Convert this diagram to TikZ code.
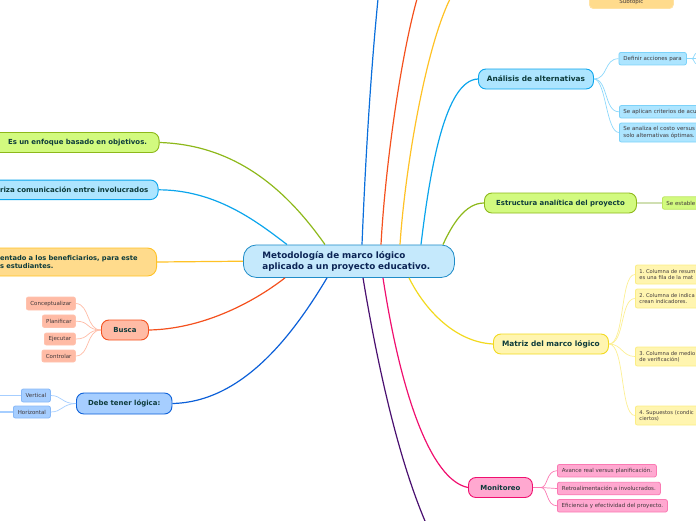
\documentclass[tikz,border=0pt]{standalone}
\usepackage{fontspec}
\setmainfont{DejaVu Sans}
\frenchspacing
\definecolor{gf}{HTML}{D2FA7F}\definecolor{gs}{HTML}{8DB81A}
\definecolor{bf}{HTML}{ADE5FF}\definecolor{bs}{HTML}{0BA5EC}
\definecolor{of}{HTML}{FFDB8C}\definecolor{os}{HTML}{FFC225}
\definecolor{rf}{HTML}{FFBBA5}\definecolor{rs}{HTML}{F4511E}
\definecolor{df}{HTML}{A6CEFF}\definecolor{ds}{HTML}{0B5FD8}
\definecolor{yf}{HTML}{FFF5B0}\definecolor{ys}{HTML}{F2D91E}
\definecolor{pf}{HTML}{FFA8D0}\definecolor{ps}{HTML}{F0106F}
\definecolor{vi}{HTML}{4A1070}
\definecolor{cf}{HTML}{C5E9FC}\definecolor{cs}{HTML}{1F8CC8}
\definecolor{mt}{HTML}{0D3B3B}\definecolor{st}{HTML}{40383A}\definecolor{nt}{HTML}{0B2455}
\tikzset{
 x=1pt,y=-1pt,
 mainbox/.style={draw,line width=.9pt,rounded corners=7.5pt,inner sep=0pt,text=mt,anchor=west,align=center,font=\fontsize{6.95}{8}\selectfont\bfseries\frenchspacing},
 widemain/.style={font=\fontsize{7.4}{8}\selectfont\bfseries},
 subbox/.style={draw,line width=.8pt,rounded corners=2pt,inner sep=0pt,text=st,anchor=west,font=\fontsize{5.5}{6.2}\selectfont\frenchspacing},
 yelbox/.style={subbox,draw=yf!70!ys,fill=yf,minimum width=75pt,minimum height=19pt,text width=67pt,align=left,font=\fontsize{5.2}{6.2}\selectfont\frenchspacing},
 main/.style={line width=1.2pt},
 fan/.style={line width=.7pt}
}
\begin{document}
\begin{tikzpicture}
\useasboundingbox (0,0) rectangle (696,520);
\clip (0,0) rectangle (696,520);
% nodes
\node[draw=cs,fill=cf,line width=.8pt,rounded corners=13pt,minimum width=211pt,minimum height=32.5pt,inner sep=0pt,anchor=west,text=nt,text width=192pt,align=left,font=\fontsize{8.8}{10.9}\selectfont\bfseries] (c) at (243,261.2) {\hspace*{9.5pt}Metodología de marco lógico\\\hspace*{9.5pt}aplicado a un proyecto educativo.};
% left main
\node[mainbox,draw=gs,fill=gf,minimum width=179pt,minimum height=20pt,anchor=east,text width=179pt,align=right] (g1) at (159.5,142.5) {Es un enfoque basado en objetivos.\hspace*{12pt}};
\node[mainbox,draw=bs,fill=bf,minimum width=179pt,minimum height=19.5pt,anchor=east,text width=179pt,align=left,font=\fontsize{7.05}{8}\selectfont\bfseries] (b1) at (158.5,189.8) {\hspace*{21pt}riza comunicación entre involucrados};
\node[mainbox,draw=os,fill=of,minimum width=177pt,minimum height=28pt,anchor=east,text width=177pt,align=left,rounded corners=9pt,font=\fontsize{6.7}{8.5}\selectfont\bfseries] (o1) at (157,262) {\hspace*{20.5pt}entado a los beneficiarios, para este\\\hspace*{20.5pt}s estudiantes.};
\node[mainbox,draw=rs,fill=rf,minimum width=47pt,minimum height=20pt] (bu) at (101,330) {Busca};
\node[mainbox,draw=ds,fill=df,minimum width=95.5pt,minimum height=21pt] (de) at (76,403.5) {Debe tener lógica:};
\node[subbox,draw=rf!90!white,fill=rf,minimum width=49pt,minimum height=13pt] (r1) at (26,303.5) {Conceptualizar};
\node[subbox,draw=rf!90!white,fill=rf,minimum width=33pt,minimum height=12.5pt] (r2) at (42,321.2) {Planificar};
\node[subbox,draw=rf!90!white,fill=rf,minimum width=31pt,minimum height=12pt] (r3) at (44,339) {Ejecutar};
\node[subbox,draw=rf!90!white,fill=rf,minimum width=33.5pt,minimum height=12pt] (r4) at (41.5,356) {Controlar};
\node[subbox,draw=df!80!ds,fill=df,minimum width=29pt,minimum height=13pt] (d1) at (21,395.5) {Vertical};
\node[subbox,draw=df!80!ds,fill=df,minimum width=37pt,minimum height=12pt] (d2) at (13,412) {Horizontal};
\coordinate (dl1) at (-1,395.5);
\coordinate (dl2) at (-1,412);
% right main
\node[subbox,draw=of!80!white,fill=of,minimum width=84pt,minimum height=18.5pt,rounded corners=4pt] (su) at (589,-0.7) {\raisebox{-10.5pt}{Subtopic}};
\node[mainbox,widemain,draw=bs,fill=bf,minimum width=115pt,minimum height=20pt] (an) at (478,79) {Análisis de alternativas};
\node[subbox,draw=bf!70!bs,fill=bf,minimum width=67.5pt,minimum height=12.5pt] (a1) at (618.5,58.7) {Definir acciones para};
\node[subbox,draw=bf!70!bs,fill=bf,minimum width=90pt,minimum height=12.5pt,text width=82pt,align=left] (a2) at (619,111.8) {Se aplican criterios de acu};
\node[subbox,draw=bf!70!bs,fill=bf,minimum width=90pt,minimum height=19pt,text width=82pt,align=left] (a3) at (619,132.5) {Se analiza el costo versus\\solo alternativas óptimas.};
\coordinate (a1f) at (692,58.7);
\coordinate (a1u) at (697,53);
\coordinate (a1m) at (697,58.7);
\coordinate (a1d) at (697,64);
\node[mainbox,draw=gs,fill=gf,minimum width=152pt,minimum height=20pt] (es) at (484,203) {Estructura analítica del proyecto};
\node[subbox,draw=gf!70!gs,fill=gf,minimum width=50pt,minimum height=12.5pt,text width=42pt,align=left] (e1) at (662,203) {Se estable};
\node[mainbox,widemain,draw=ys,fill=yf,minimum width=115pt,minimum height=20pt] (ma) at (493,344) {Matriz del marco lógico};
\node[yelbox] (m1) at (635,274.5) {1. Columna de resum\\es una fila de la mat};
\node[yelbox] (m2) at (635,298.5) {2. Columna de indica\\crean indicadores.};
\node[yelbox] (m3) at (635,356.5) {3. Columna de medio\\de verificación)};
\node[yelbox] (m4) at (635,415.5) {4. Supuestos (condic\\ciertos)};
\node[mainbox,draw=ps,fill=pf,minimum width=64pt,minimum height=20pt] (mo) at (468,487.5) {Monitoreo};
\node[subbox,draw=pf!70!ps,fill=pf,minimum width=99pt,minimum height=12.5pt] (p1) at (557,470.7) {Avance real versus planificación.};
\node[subbox,draw=pf!70!ps,fill=pf,minimum width=103pt,minimum height=12.5pt] (p2) at (557,488.5) {Retroalimentación a involucrados.};
\node[subbox,draw=pf!70!ps,fill=pf,minimum width=110pt,minimum height=12.5pt] (p3) at (557,505.8) {Eficiencia y efectividad del proyecto.};
% free ends
\coordinate (t1) at (378,-1);
\coordinate (t2) at (417,-1);
\coordinate (t3) at (450,-1);
\coordinate (t4) at (425,521);
% main connectors
\draw[main,color=gs] (g1.east) .. controls (240,145) and (290,195) .. ([xshift=82pt]c.north west);
\draw[main,color=bs] (b1.east) .. controls (215,190) and (255,220) .. ([xshift=44pt]c.north west);
\draw[main,color=os] (o1.east) -- (c.west);
\draw[main,color=rs] (bu.east) .. controls (200,329) and (250,305) .. ([xshift=42pt]c.south west);
\draw[main,color=ds] (de.east) .. controls (240,402) and (290,340) .. ([xshift=84pt]c.south west);
\draw[main,color=ds!90!cyan] (t1) .. controls (370,80) and (365,170) .. ([xshift=119pt]c.north west);
\draw[main,color=rs] (t2) .. controls (400,60) and (385,170) .. ([xshift=138pt]c.north west);
\draw[main,color=os] (t3) .. controls (425,50) and (405,170) .. ([xshift=157pt]c.north west);
\draw[main,color=bs] (an.west) .. controls (445,80) and (430,170) .. ([xshift=178pt]c.north west);
\draw[main,color=gs] (es.west) .. controls (465,203) and (452,225) .. ([xshift=200pt]c.north west);
\draw[main,color=ys] (ma.west) .. controls (455,342) and (425,310) .. ([xshift=166pt]c.south west);
\draw[main,color=ps] (mo.west) .. controls (430,480) and (400,390) .. ([xshift=140pt]c.south west);
\draw[main,color=vi] (t4) .. controls (395,450) and (375,350) .. ([xshift=120pt]c.south west);
% fans
\foreach \n/\yy in {r1/304,r2/321,r3/339,r4/356}{
 \draw[fan,color=rf] (bu.west) .. controls (86,330) and (90,\yy) .. (\n.east);
}
\foreach \n/\yy in {d1/395.5,d2/412}{
 \draw[fan,color=df] (de.west) .. controls (62,404) and (62,\yy) .. (\n.east);
}
\draw[fan,color=df] (d1.west) -- (dl1);
\draw[line width=1.4pt,color=df] (d2.west) -- (dl2);
\draw[fan,color=bf!80!bs] (an.east) .. controls (608,79) and (604,58.7) .. (a1.west);
\draw[fan,color=bf!80!bs] (an.east) .. controls (608,79) and (604,111.8) .. (a2.west);
\draw[fan,color=bf!80!bs] (an.east) .. controls (606,79) and (606,132.5) .. (a3.west);
\draw[line width=1.3pt,color=bf!80!bs] (a1.east) -- (a1f);
\draw[fan,color=bf!80!bs] (a1f) .. controls (694,58.7) and (694,53) .. (a1u);
\draw[fan,color=bf!80!bs] (a1f) -- (a1m);
\draw[fan,color=bf!80!bs] (a1f) .. controls (694,58.7) and (694,64) .. (a1d);
\draw[line width=1.3pt,color=gf!60!gray!60!white] (es.east) -- (e1.west);
\draw[fan,color=yf!80!ys] (ma.east) .. controls (625,344) and (620,274.5) .. (m1.west);
\draw[fan,color=yf!80!ys] (ma.east) .. controls (625,344) and (620,298.5) .. (m2.west);
\draw[fan,color=yf!80!ys] (ma.east) .. controls (622,344) and (622,356.5) .. (m3.west);
\draw[fan,color=yf!80!ys] (ma.east) .. controls (625,344) and (620,415.5) .. (m4.west);
\draw[line width=1.2pt,color=pf!70!ps] (mo.east) -- ++(8,0) coordinate (mof);
\draw[fan,color=pf!70!ps] (mof) .. controls (548,487.5) and (546,470.7) .. (p1.west);
\draw[fan,color=pf!70!ps] (mof) -- (p2.west);
\draw[fan,color=pf!70!ps] (mof) .. controls (548,487.5) and (546,505.8) .. (p3.west);
\end{tikzpicture}
\end{document}
